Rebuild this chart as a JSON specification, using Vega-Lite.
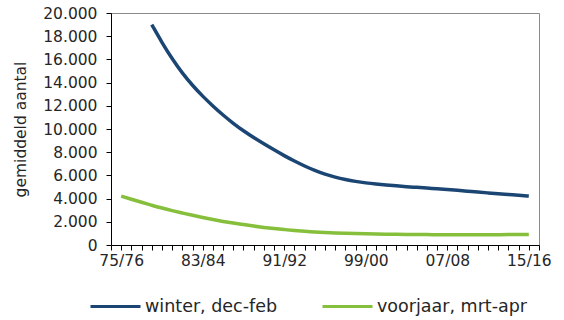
{
  "$schema": "https://vega.github.io/schema/vega-lite/v6.json",
  "width": 428,
  "height": 232,
  "autosize": {"type": "none"},
  "padding": {"left": 111, "top": 13, "right": 25, "bottom": 75},
  "background": "white",
  "config": {
    "font": "DejaVu Sans",
    "view": {"stroke": "#8a8a8a", "strokeWidth": 1},
    "axis": {"grid": false, "domainColor": "#000000", "tickColor": "#000000", "tickSize": 5, "labelColor": "#262626", "titleColor": "#262626", "labelFontSize": 15.5}
  },
  "data": {
    "values": [
      {"jaar": 1978, "reeks": "winter, dec-feb", "aantal": 19000},
      {"jaar": 1979, "reeks": "winter, dec-feb", "aantal": 17450},
      {"jaar": 1980, "reeks": "winter, dec-feb", "aantal": 16050},
      {"jaar": 1981, "reeks": "winter, dec-feb", "aantal": 14800},
      {"jaar": 1982, "reeks": "winter, dec-feb", "aantal": 13750},
      {"jaar": 1983, "reeks": "winter, dec-feb", "aantal": 12820},
      {"jaar": 1984, "reeks": "winter, dec-feb", "aantal": 11980},
      {"jaar": 1985, "reeks": "winter, dec-feb", "aantal": 11200},
      {"jaar": 1986, "reeks": "winter, dec-feb", "aantal": 10480},
      {"jaar": 1987, "reeks": "winter, dec-feb", "aantal": 9840},
      {"jaar": 1988, "reeks": "winter, dec-feb", "aantal": 9260},
      {"jaar": 1989, "reeks": "winter, dec-feb", "aantal": 8720},
      {"jaar": 1990, "reeks": "winter, dec-feb", "aantal": 8200},
      {"jaar": 1991, "reeks": "winter, dec-feb", "aantal": 7700},
      {"jaar": 1992, "reeks": "winter, dec-feb", "aantal": 7230},
      {"jaar": 1993, "reeks": "winter, dec-feb", "aantal": 6800},
      {"jaar": 1994, "reeks": "winter, dec-feb", "aantal": 6420},
      {"jaar": 1995, "reeks": "winter, dec-feb", "aantal": 6100},
      {"jaar": 1996, "reeks": "winter, dec-feb", "aantal": 5840},
      {"jaar": 1997, "reeks": "winter, dec-feb", "aantal": 5640},
      {"jaar": 1998, "reeks": "winter, dec-feb", "aantal": 5480},
      {"jaar": 1999, "reeks": "winter, dec-feb", "aantal": 5350},
      {"jaar": 2000, "reeks": "winter, dec-feb", "aantal": 5250},
      {"jaar": 2001, "reeks": "winter, dec-feb", "aantal": 5170},
      {"jaar": 2002, "reeks": "winter, dec-feb", "aantal": 5100},
      {"jaar": 2003, "reeks": "winter, dec-feb", "aantal": 5030},
      {"jaar": 2004, "reeks": "winter, dec-feb", "aantal": 4970},
      {"jaar": 2005, "reeks": "winter, dec-feb", "aantal": 4910},
      {"jaar": 2006, "reeks": "winter, dec-feb", "aantal": 4850},
      {"jaar": 2007, "reeks": "winter, dec-feb", "aantal": 4790},
      {"jaar": 2008, "reeks": "winter, dec-feb", "aantal": 4720},
      {"jaar": 2009, "reeks": "winter, dec-feb", "aantal": 4640},
      {"jaar": 2010, "reeks": "winter, dec-feb", "aantal": 4560},
      {"jaar": 2011, "reeks": "winter, dec-feb", "aantal": 4490},
      {"jaar": 2012, "reeks": "winter, dec-feb", "aantal": 4420},
      {"jaar": 2013, "reeks": "winter, dec-feb", "aantal": 4350},
      {"jaar": 2014, "reeks": "winter, dec-feb", "aantal": 4280},
      {"jaar": 2015, "reeks": "winter, dec-feb", "aantal": 4220},
      {"jaar": 1975, "reeks": "voorjaar, mrt-apr", "aantal": 4210},
      {"jaar": 1976, "reeks": "voorjaar, mrt-apr", "aantal": 3940},
      {"jaar": 1977, "reeks": "voorjaar, mrt-apr", "aantal": 3680},
      {"jaar": 1978, "reeks": "voorjaar, mrt-apr", "aantal": 3430},
      {"jaar": 1979, "reeks": "voorjaar, mrt-apr", "aantal": 3180},
      {"jaar": 1980, "reeks": "voorjaar, mrt-apr", "aantal": 2960},
      {"jaar": 1981, "reeks": "voorjaar, mrt-apr", "aantal": 2760},
      {"jaar": 1982, "reeks": "voorjaar, mrt-apr", "aantal": 2560},
      {"jaar": 1983, "reeks": "voorjaar, mrt-apr", "aantal": 2370},
      {"jaar": 1984, "reeks": "voorjaar, mrt-apr", "aantal": 2190},
      {"jaar": 1985, "reeks": "voorjaar, mrt-apr", "aantal": 2030},
      {"jaar": 1986, "reeks": "voorjaar, mrt-apr", "aantal": 1890},
      {"jaar": 1987, "reeks": "voorjaar, mrt-apr", "aantal": 1760},
      {"jaar": 1988, "reeks": "voorjaar, mrt-apr", "aantal": 1630},
      {"jaar": 1989, "reeks": "voorjaar, mrt-apr", "aantal": 1510},
      {"jaar": 1990, "reeks": "voorjaar, mrt-apr", "aantal": 1410},
      {"jaar": 1991, "reeks": "voorjaar, mrt-apr", "aantal": 1330},
      {"jaar": 1992, "reeks": "voorjaar, mrt-apr", "aantal": 1250},
      {"jaar": 1993, "reeks": "voorjaar, mrt-apr", "aantal": 1180},
      {"jaar": 1994, "reeks": "voorjaar, mrt-apr", "aantal": 1120},
      {"jaar": 1995, "reeks": "voorjaar, mrt-apr", "aantal": 1080},
      {"jaar": 1996, "reeks": "voorjaar, mrt-apr", "aantal": 1040},
      {"jaar": 1997, "reeks": "voorjaar, mrt-apr", "aantal": 1010},
      {"jaar": 1998, "reeks": "voorjaar, mrt-apr", "aantal": 980},
      {"jaar": 1999, "reeks": "voorjaar, mrt-apr", "aantal": 960},
      {"jaar": 2000, "reeks": "voorjaar, mrt-apr", "aantal": 945},
      {"jaar": 2001, "reeks": "voorjaar, mrt-apr", "aantal": 930},
      {"jaar": 2002, "reeks": "voorjaar, mrt-apr", "aantal": 920},
      {"jaar": 2003, "reeks": "voorjaar, mrt-apr", "aantal": 910},
      {"jaar": 2004, "reeks": "voorjaar, mrt-apr", "aantal": 905},
      {"jaar": 2005, "reeks": "voorjaar, mrt-apr", "aantal": 895},
      {"jaar": 2006, "reeks": "voorjaar, mrt-apr", "aantal": 890},
      {"jaar": 2007, "reeks": "voorjaar, mrt-apr", "aantal": 885},
      {"jaar": 2008, "reeks": "voorjaar, mrt-apr", "aantal": 880},
      {"jaar": 2009, "reeks": "voorjaar, mrt-apr", "aantal": 880},
      {"jaar": 2010, "reeks": "voorjaar, mrt-apr", "aantal": 880},
      {"jaar": 2011, "reeks": "voorjaar, mrt-apr", "aantal": 885},
      {"jaar": 2012, "reeks": "voorjaar, mrt-apr", "aantal": 890},
      {"jaar": 2013, "reeks": "voorjaar, mrt-apr", "aantal": 895},
      {"jaar": 2014, "reeks": "voorjaar, mrt-apr", "aantal": 900},
      {"jaar": 2015, "reeks": "voorjaar, mrt-apr", "aantal": 905}
    ]
  },
  "mark": {"type": "line", "strokeWidth": 3.5, "interpolate": "basis"},
  "encoding": {
    "x": {
      "field": "jaar",
      "type": "quantitative",
      "scale": {"domain": [1974, 2016], "nice": false, "zero": false},
      "axis": {
        "title": null,
        "values": [1974, 1975, 1976, 1977, 1978, 1979, 1980, 1981, 1982, 1983, 1984, 1985, 1986, 1987, 1988, 1989, 1990, 1991, 1992, 1993, 1994, 1995, 1996, 1997, 1998, 1999, 2000, 2001, 2002, 2003, 2004, 2005, 2006, 2007, 2008, 2009, 2010, 2011, 2012, 2013, 2014, 2015, 2016],
        "labelExpr": "(datum.value - 1975) % 8 == 0 ? slice(toString(datum.value), 2) + '/' + slice(toString(datum.value + 1), 2) : ''",
        "labelPadding": 3,
        "labelFlush": false,
        "labelOverlap": false
      }
    },
    "y": {
      "field": "aantal",
      "type": "quantitative",
      "scale": {"domain": [0, 20000], "nice": false},
      "axis": {
        "title": "gemiddeld aantal",
        "titleFontSize": 15.5,
        "titleFontWeight": "normal",
        "titlePadding": 14,
        "values": [0, 2000, 4000, 6000, 8000, 10000, 12000, 14000, 16000, 18000, 20000],
        "labelExpr": "replace(format(datum.value, ','), ',', '.')",
        "labelPadding": 9
      }
    },
    "color": {
      "field": "reeks",
      "type": "nominal",
      "scale": {"domain": ["winter, dec-feb", "voorjaar, mrt-apr"], "range": ["#1b4674", "#86bf3c"]},
      "legend": {
        "title": null,
        "orient": "none",
        "legendX": -22,
        "legendY": 267,
        "direction": "horizontal",
        "symbolType": "stroke",
        "symbolSize": 2500,
        "symbolStrokeWidth": 3,
        "labelFontSize": 17.5,
        "labelColor": "#262626",
        "labelOffset": 3,
        "columnPadding": 38,
        "padding": 0
      }
    }
  }
}
